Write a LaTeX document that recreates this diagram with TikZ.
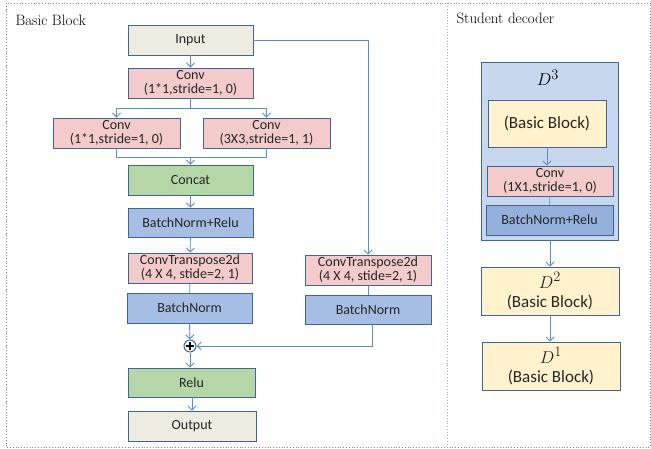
\documentclass[tikz,border=0pt]{standalone}
\usepackage{fontspec}
\newfontfamily\boxfont{Carlito}
\usetikzlibrary{arrows.meta}
\definecolor{bord}{HTML}{3E6595}
\definecolor{linec}{HTML}{5B8BC9}
\definecolor{beige}{HTML}{EEECE1}
\definecolor{pinkf}{HTML}{F2CBCA}
\definecolor{greenf}{HTML}{B5D7A8}
\definecolor{bluef}{HTML}{A6BEE3}
\definecolor{bluedk}{HTML}{95B1DB}
\definecolor{lightbl}{HTML}{C7D7EE}
\definecolor{yellf}{HTML}{FFF2CC}
\tikzset{
  blk/.style={draw=bord, line width=0.9pt, inner sep=0pt, align=center,
    font=\boxfont\fontsize{14}{14}\selectfont, text=black!85},
  bigblk/.style={blk, font=\boxfont\fontsize{17}{19}\selectfont},
  arr/.style={draw=linec, line width=0.9pt, -{Straight Barb[length=4pt,width=8pt]}},
  ln/.style={draw=linec, line width=0.9pt},
  title/.style={font=\fontsize{15}{17}\selectfont, anchor=west}
}
\begin{document}
\begin{tikzpicture}[x=1pt,y=-1pt]
\useasboundingbox (0,0) rectangle (651,449);
\draw[gray, dotted, line width=0.8pt] (6,3) rectangle (650,447);
\draw[linec!70, dotted, line width=0.9pt] (447,3) -- (447,447);
\node[title] (t1) at (12,20) {Basic Block};
\node[title] (t2) at (453,18) {Student decoder};
% left block
\node[blk, fill=beige, minimum width=125pt, minimum height=30pt] (input) at (190.5,40) {Input};
\node[blk, fill=pinkf, minimum width=125pt, minimum height=30pt] (conv1) at (190.5,83) {Conv\\(1*1,stride=1, 0)};
\node[blk, fill=pinkf, minimum width=127pt, minimum height=30pt] (convL) at (116.5,133) {Conv\\(1*1,stride=1, 0)};
\node[blk, fill=pinkf, minimum width=127pt, minimum height=30pt] (convR) at (266.5,133) {Conv\\(3X3,stride=1, 1)};
\node[blk, fill=greenf, minimum width=125pt, minimum height=30pt] (concat) at (190.5,180) {Concat};
\node[blk, fill=bluef, minimum width=125pt, minimum height=29pt] (bnr) at (190.5,222.5) {BatchNorm+Relu};
\node[blk, fill=pinkf, minimum width=124pt, minimum height=30pt] (ctL) at (190,268) {ConvTranspose2d\\(4 X 4, stide=2, 1)};
\node[blk, fill=bluef, minimum width=125pt, minimum height=30pt] (bnL) at (189.5,308) {BatchNorm};
\node[circle, draw=bord, line width=1pt, minimum size=12pt, inner sep=0pt,
  path picture={\draw[black, line width=1.3pt] ([yshift=-1.8pt]path picture bounding box.north) -- ([yshift=1.8pt]path picture bounding box.south);
                \draw[black, line width=1.3pt] ([xshift=1.8pt]path picture bounding box.west) -- ([xshift=-1.8pt]path picture bounding box.east);}] (plus) at (190,346) {};
\node[blk, fill=greenf, minimum width=127pt, minimum height=29pt] (relu) at (191.5,382.5) {Relu};
\node[blk, fill=beige, minimum width=128pt, minimum height=30pt] (output) at (192,426) {Output};
\node[blk, fill=pinkf, minimum width=126pt, minimum height=30pt] (ctR) at (368,270) {ConvTranspose2d\\(4 X 4, stide=2, 1)};
\node[blk, fill=bluef, minimum width=126pt, minimum height=29pt] (bnR) at (368,309.5) {BatchNorm};
\coordinate (split) at (190.5,108);
\coordinate (merge) at (190.5,157);
\draw[arr] (input) -- (conv1);
\draw[ln] (conv1.south) -- (split);
\draw[arr] (split) -| (convL.north);
\draw[arr] (split) -| (convR.north);
\draw[ln] (convL.south) |- (merge);
\draw[ln] (convR.south) |- (merge);
\draw[arr] (merge) -- (concat.north);
\draw[arr] (concat) -- (bnr);
\draw[arr] (bnr) -- (ctL);
\draw[ln] (ctL) -- (bnL);
\draw[arr] (bnL.south) -- (plus.north);
\draw[arr] (plus.south) -- (relu.north -| plus.south);
\draw[arr] (relu.south -| output.north) -- (output.north);
\draw[arr] (input.east) -| (ctR.north);
\draw[ln] (ctR) -- (bnR);
\draw[arr] ([xshift=4pt]bnR.south) |- (plus.east);
% right panel
\node[draw=bord, line width=0.9pt, fill=lightbl, minimum width=137pt, minimum height=178pt, inner sep=0pt] (d3) at (549.5,151) {};
\node[font=\fontsize{19}{21}\selectfont] (d3l) at (548,78) {$D^3$};
\node[bigblk, fill=yellf, minimum width=118pt, minimum height=47pt] (bb) at (547,123.5) {(Basic Block)};
\node[blk, fill=pinkf, minimum width=126pt, minimum height=30pt] (conv2) at (550,181) {Conv\\(1X1,stride=1, 0)};
\node[blk, fill=bluedk, minimum width=127pt, minimum height=30pt] (bnr2) at (549.5,220) {BatchNorm+Relu};
\node[bigblk, fill=yellf, minimum width=138pt, minimum height=48pt] (d2) at (550,291) {{\fontsize{19}{18}\selectfont$D^2$}\\(Basic Block)};
\node[bigblk, fill=yellf, minimum width=138pt, minimum height=48pt] (d1) at (551,366) {{\fontsize{19}{18}\selectfont$D^1$}\\(Basic Block)};
\draw[arr] (bb.south) -- (conv2.north -| bb.south);
\draw[ln] (conv2) -- (bnr2);
\draw[arr] (d3.south -| d2.north) -- (d2.north);
\draw[arr] (d2.south) -- (d1.north -| d2.south);
\end{tikzpicture}
\end{document}
